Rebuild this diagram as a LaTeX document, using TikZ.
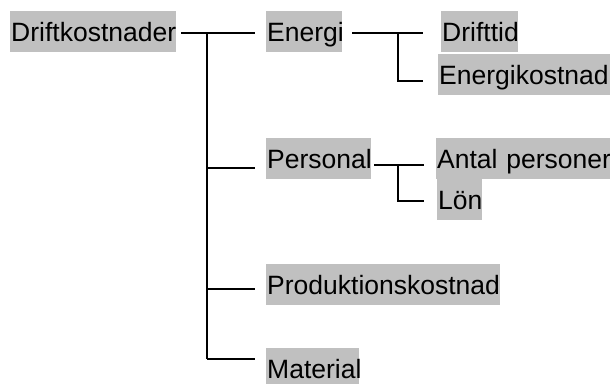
\documentclass[tikz,border=0pt]{standalone}
\usepackage{fontspec}
\setmainfont{Liberation Sans}
\definecolor{boxgray}{HTML}{C0C0C0}
\begin{document}
\begin{tikzpicture}[x=1pt, y=-1pt,
  box/.style={fill=boxgray, anchor=north west, inner xsep=1pt, inner ysep=0pt,
    text height=30.5pt, text depth=10pt, align=left,
    font=\fontsize{26.5pt}{30pt}\selectfont},
  link/.style={draw=black, line width=1.3pt}]
\clip (0,0) rectangle (610,383);

% labels (each kept on one line)
\node[box, text width=164pt] (root) at (10,11) {\mbox{Driftkostnader}};
\node[box, text width=74pt] (energi) at (266,11) {\mbox{Energi}};
\node[box, text width=75pt] (drifttid) at (441,11) {\mbox{Drifttid}};
\node[box, text width=170pt] (energikost) at (438,54) {\mbox{Energikostnad}};
\node[box, text width=103pt] (personal) at (266,138) {\mbox{Personal}};
\node[box, text width=172pt] (antal) at (436,138) {\mbox{Antal personer}};
\node[box, text width=43pt] (lon) at (437,179) {\mbox{Lön}};
\node[box, text width=232pt] (prod) at (266,264) {\mbox{Produktionskostnad}};
\node[box, text width=91pt] (material) at (266,348) {\mbox{Material}};

% junction points on the main trunk
\coordinate (bE) at (207,33);
\coordinate (bP) at (207,168);
\coordinate (bR) at (207,289);
\coordinate (bM) at (207,359);
% junction points of the two sub-brackets
\coordinate (eJ) at (398,33);
\coordinate (eK) at (398,81);
\coordinate (pJ) at (398,165);
\coordinate (pK) at (398,201);

% main bracket
\draw[link] ([xshift=5pt]root.east |- bE) -- (bE);
\draw[link] (bE) -- (bM);
\draw[link] (bE) -- ([xshift=-11pt]energi.west |- bE);
\draw[link] (bP) -- ([xshift=-11pt]personal.west |- bP);
\draw[link] (bR) -- ([xshift=-11pt]prod.west |- bR);
\draw[link] (bM) -- ([xshift=-11pt]material.west |- bM);

% Energi bracket
\draw[link] ([xshift=10pt]energi.east |- eJ) -- ([xshift=-18pt]drifttid.west |- eJ);
\draw[link] (eJ) |- ([xshift=-15pt]energikost.west |- eK);

% Personal bracket
\draw[link] ([xshift=3pt]personal.east |- pJ) -- ([xshift=-12pt]antal.west |- pJ);
\draw[link] (pJ) |- ([xshift=-13pt]lon.west |- pK);
\end{tikzpicture}
\end{document}
